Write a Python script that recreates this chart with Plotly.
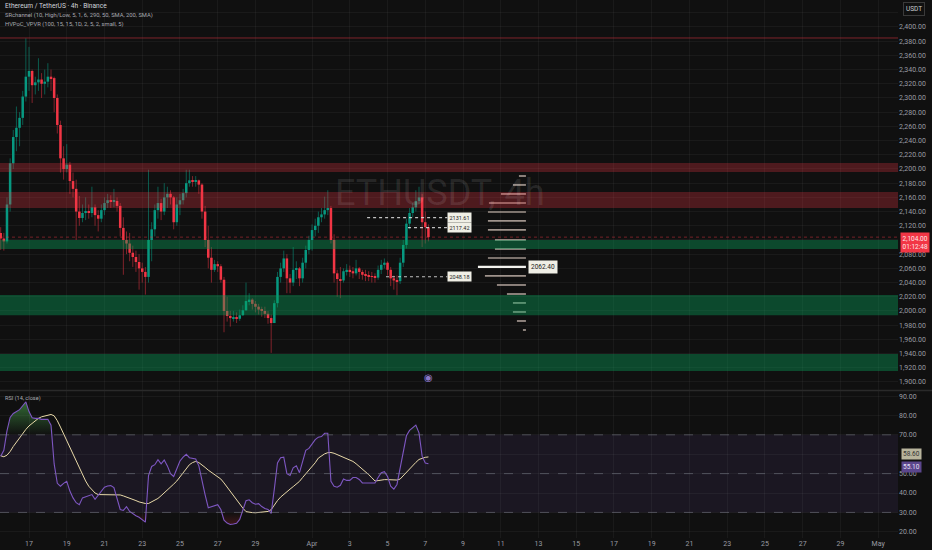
import pandas as pd
import plotly.graph_objects as go

# ---- price data (4h candles, ETHUSDT) ----
first_candle = "2025-03-15 12:00"
first_open = 2110
closes = [2102, 2098, 2150, 2208, 2245, 2258, 2272, 2302, 2330, 2338,
          2318, 2322, 2326, 2320, 2323, 2330, 2328, 2300, 2262, 2215,
          2200, 2206, 2183, 2172, 2140, 2131, 2138, 2140, 2138, 2146,
          2135, 2130, 2142, 2152, 2156, 2154, 2155, 2148, 2117, 2100,
          2095, 2082, 2076, 2069, 2060, 2055, 2048, 2100, 2115, 2142,
          2152, 2140, 2160, 2165, 2160, 2125, 2150, 2156, 2166, 2180,
          2184, 2182, 2184, 2178, 2140, 2100, 2075, 2058, 2066, 2063,
          2044, 2000, 1993, 1990, 1991, 1989, 1994, 2001, 2014, 2016,
          2010, 2006, 2002, 2000, 1996, 1990, 1983, 2011, 2048, 2060,
          2074, 2046, 2040, 2058, 2060, 2046, 2068, 2086, 2100, 2114,
          2120, 2132, 2136, 2142, 2145, 2100, 2053, 2045, 2043, 2056,
          2058, 2056, 2053, 2060, 2055, 2051, 2050, 2049, 2048, 2047,
          2058, 2065, 2068, 2058, 2046, 2043, 2042, 2068, 2093, 2123,
          2138, 2146, 2155, 2160, 2125, 2118, 2104]
highs = [2118, 2110, 2160, 2215, 2255, 2288, 2280, 2310, 2384, 2372,
         2340, 2330, 2356, 2335, 2340, 2349, 2340, 2330, 2305, 2268,
         2232, 2235, 2210, 2195, 2185, 2162, 2150, 2160, 2150, 2175,
         2150, 2142, 2150, 2160, 2165, 2163, 2172, 2160, 2152, 2132,
         2112, 2110, 2092, 2085, 2080, 2068, 2062, 2199, 2125, 2150,
         2175, 2158, 2180, 2175, 2170, 2162, 2160, 2165, 2172, 2199,
         2199, 2190, 2190, 2185, 2180, 2148, 2120, 2090, 2072, 2070,
         2066, 2048, 2020, 2000, 2000, 1998, 2002, 2008, 2040, 2025,
         2018, 2014, 2010, 2006, 2006, 2000, 1995, 2015, 2055, 2068,
         2085, 2080, 2052, 2090, 2070, 2062, 2075, 2092, 2106, 2122,
         2130, 2140, 2145, 2161, 2170, 2148, 2108, 2058, 2062, 2060,
         2066, 2064, 2062, 2072, 2062, 2058, 2058, 2056, 2055, 2053,
         2064, 2072, 2074, 2070, 2062, 2050, 2050, 2075, 2100, 2130,
         2145, 2152, 2170, 2175, 2165, 2140, 2122]
lows = [2086, 2085, 2095, 2140, 2200, 2225, 2232, 2262, 2295, 2310,
        2293, 2305, 2310, 2300, 2305, 2315, 2310, 2280, 2250, 2195,
        2185, 2195, 2165, 2160, 2100, 2120, 2125, 2128, 2130, 2132,
        2120, 2112, 2125, 2135, 2145, 2145, 2146, 2140, 2105, 2051,
        2080, 2070, 2062, 2055, 2030, 2040, 2023, 2040, 2070, 2105,
        2130, 2128, 2135, 2145, 2150, 2115, 2120, 2135, 2150, 2160,
        2175, 2175, 2175, 2165, 2130, 2090, 2060, 2040, 2055, 2055,
        2040, 1970, 1985, 1978, 1985, 1983, 1986, 1993, 2000, 2008,
        2002, 1998, 1995, 1992, 1990, 1982, 1941, 1985, 2005, 2040,
        2055, 2025, 2025, 2035, 2045, 2035, 2040, 2060, 2080, 2085,
        2105, 2110, 2125, 2130, 2135, 2095, 2040, 2020, 2018, 2040,
        2050, 2048, 2046, 2050, 2045, 2044, 2042, 2042, 2040, 2040,
        2044, 2052, 2060, 2050, 2035, 2030, 2022, 2038, 2062, 2088,
        2115, 2132, 2140, 2150, 2090, 2095, 2098]

# ---- RSI (14, close) and its moving average ----
rsi_values = [59, 62, 72, 79, 81, 82, 83, 85, 87, 82,
              78.8, 78.5, 78.5, 78, 78, 78, 75, 55, 45, 43.5,
              45, 46, 41, 37.5, 35, 34, 37.5, 38, 38.5, 39.2,
              36.7, 39, 41, 43, 43.6, 43.8, 42.8, 37, 31.5, 31,
              33, 30.5, 29.2, 28.3, 27.5, 26, 25, 49, 53.7, 54.6,
              57.2, 55, 57, 54, 50, 48.5, 53, 56.5, 58.5, 60,
              58.2, 58, 57.5, 54, 46, 39, 32.4, 33, 33.5, 34,
              31.5, 26, 24.5, 23.8, 24, 24.4, 26.4, 31, 36, 36.5,
              35, 34.2, 34.5, 33, 32, 31.5, 29.5, 42, 55.5, 58.2,
              58.5, 50, 49, 53, 54, 50.5, 56, 62, 63, 65,
              67.5, 68.8, 69.1, 70.8, 70.8, 46, 43.5, 43, 44, 47.2,
              46.5, 46.5, 48, 48, 47, 45.2, 45.2, 45.3, 45.5, 45.2,
              48, 50.5, 51, 48.5, 43.5, 42, 44.4, 53, 62, 69.5,
              72.3, 73.5, 75, 71, 59, 55.5, 55.1]
rsi_ma_values = [59.2, 58.7, 59.5, 61.4, 64, 66.3, 68.8, 70.8, 72.8, 74.6,
                 75.9, 77.3, 78.5, 79.3, 79.8, 80.3, 80.5, 79.8, 77.3, 74,
                 70.5, 67.3, 63.8, 60.2, 56.8, 53.2, 49.6, 46.2, 43.5, 41.6,
                 40, 39.2, 39.2, 39.2, 39.2, 39.2, 39.2, 39.2, 39, 38.5,
                 38, 37.5, 36.8, 36.1, 35.4, 35, 34.6, 34.6, 35.4, 36.3,
                 37.2, 38.6, 40, 41.4, 43, 44.6, 46.2, 48.4, 50.6, 52.8,
                 54.6, 55.7, 56.3, 55.7, 54.6, 53.2, 51.8, 50.6, 49.5, 48.4,
                 47.2, 45.2, 43, 40.6, 38.4, 36, 34.1, 32.2, 30.4, 30,
                 29.9, 29.8, 29.9, 30.1, 30.3, 30.5, 31.4, 33.8, 36.1, 37.9,
                 39.4, 40.9, 42, 43.3, 44.7, 46, 48, 49.8, 51.6, 53.6,
                 55.6, 58, 59.3, 60.2, 60.8, 60.9, 60.5, 59.8, 59.2, 58.6,
                 57.9, 57.3, 56.3, 55.1, 53.8, 52.5, 50.9, 49.5, 47.9, 46.2,
                 46.4, 46.8, 46.9, 46.9, 46.9, 46.8, 46.7, 47.2, 49, 50.8,
                 52.7, 54.2, 55.8, 57.3, 58, 58.4, 58.6]

# ---- SR channel zones ----
resistance_line = 2384.5
red_zones = [(2195.8, 2208.5), (2145.0, 2167.6)]
green_zones = [(2087.3, 2100.0), (1994.0, 2022.5), (1915.5, 1939.4)]

# ---- volume profile (HVPoC_VPVR) ----
vp_levels = [1973.2, 1985.9, 1998.6, 2011.3, 2023.9, 2036.6, 2049.3, 2062.4, 2074.6,
             2087.3, 2100.0, 2114.1, 2126.8, 2139.4, 2152.1, 2164.8, 2177.5, 2190.1]
vp_volume = [3, 9, 13, 13, 19, 29, 41, 48, 38, 31, 31, 38, 38, 38, 37, 25, 13, 7]
vp_right = "2025-04-12 08:00"

# ---- high volume levels ----
level_prices = [2131.61, 2117.42, 2048.18]
level_starts = ["2025-04-03 22:00", "2025-04-06 02:00", "2025-04-04 22:00"]
level_end = "2025-04-08 04:00"

# ---- axis ticks ----
tick_dates = ["2025-03-17", "2025-03-19", "2025-03-21", "2025-03-23", "2025-03-25",
              "2025-03-27", "2025-03-29", "2025-04-01", "2025-04-03", "2025-04-05",
              "2025-04-07", "2025-04-09", "2025-04-11", "2025-04-13", "2025-04-15",
              "2025-04-17", "2025-04-19", "2025-04-21", "2025-04-23", "2025-04-25",
              "2025-04-27", "2025-04-29", "2025-05-01"]
tick_labels = ["17", "19", "21", "23", "25", "27", "29", "Apr", "3", "5", "7", "9",
               "11", "13", "15", "17", "19", "21", "23", "25", "27", "29", "May"]
price_ticks = list(range(1900, 2440, 20))
price_hidden = [2100, 2420]      # covered by the price / currency labels
rsi_ticks = [20, 30, 40, 50, 60, 70, 80, 90]
rsi_hidden = [60]

BG = "#101010"
GRID = "rgba(255,255,255,0.045)"
TXT = "#9a9ca3"
UP, DOWN = "#089981", "#f23645"
FONT = "Roboto"

times = pd.date_range(first_candle, periods=len(closes), freq="4h")
opens = [first_open] + closes[:-1]
highs = [max(h, o, c) for h, o, c in zip(highs, opens, closes)]
lows = [min(l, o, c) for l, o, c in zip(lows, opens, closes)]
is_up = [c >= o for o, c in zip(opens, closes)]

fig = go.Figure()

# candle bodies
body_base = [min(o, c) for o, c in zip(opens, closes)]
body_h = [max(abs(c - o), 1.2) for o, c in zip(opens, closes)]
fig.add_trace(go.Bar(x=times, y=body_h, base=body_base, width=4 * 3600 * 1000 * 0.8,
                     marker=dict(color=[UP if u else DOWN for u in is_up], line=dict(width=0)),
                     xaxis="x", yaxis="y", hoverinfo="skip", showlegend=False))

# volume profile bars, anchored at the right edge
px_ms = 86400000 / 18.87
vmax = max(vp_volume)
vp_len = [v / vmax * 48 * px_ms for v in vp_volume]
vp_left = [pd.Timestamp(vp_right) - pd.Timedelta(milliseconds=l) for l in vp_len]
vp_colors = ["#f2f2ee" if v == vmax else "rgba(200,185,175,0.78)" for v in vp_volume]
fig.add_trace(go.Bar(y=vp_levels, x=vp_len, base=vp_left, orientation="h", width=2.4,
                     marker=dict(color=vp_colors, line=dict(width=0)),
                     xaxis="x", yaxis="y", hoverinfo="skip", showlegend=False))

# candle wicks
for want_up, col in ((True, "rgba(8,153,129,0.55)"), (False, "rgba(242,54,69,0.5)")):
    wx, wy = [], []
    for t, h, l, u in zip(times, highs, lows, is_up):
        if u == want_up:
            wx += [t, t, None]
            wy += [l, h, None]
    fig.add_trace(go.Scatter(x=wx, y=wy, mode="lines", line=dict(color=col, width=1),
                             xaxis="x", yaxis="y", hoverinfo="skip", showlegend=False))

# dotted level lines
for p, s in zip(level_prices, level_starts):
    fig.add_trace(go.Scatter(x=[s, level_end], y=[p, p], mode="lines",
                             line=dict(color="rgba(225,225,225,0.85)", width=1.2, dash="dot"),
                             xaxis="x", yaxis="y", hoverinfo="skip", showlegend=False))

# RSI panel
n = len(rsi_values)
rsi_over = [max(v, 70) for v in rsi_values]
rsi_under = [min(v, 30) for v in rsi_values]
fig.add_trace(go.Scatter(x=times, y=[70] * n, mode="lines", line=dict(width=0),
                         xaxis="x2", yaxis="y2", hoverinfo="skip", showlegend=False))
fig.add_trace(go.Scatter(x=times, y=rsi_over, mode="lines", line=dict(width=0), fill="tonexty",
                         fillgradient=dict(type="vertical", start=70, stop=100,
                                           colorscale=[[0, "rgba(76,175,80,0)"], [1, "rgba(76,175,80,1)"]]),
                         xaxis="x2", yaxis="y2", hoverinfo="skip", showlegend=False))
fig.add_trace(go.Scatter(x=times, y=[30] * n, mode="lines", line=dict(width=0),
                         xaxis="x2", yaxis="y2", hoverinfo="skip", showlegend=False))
fig.add_trace(go.Scatter(x=times, y=rsi_under, mode="lines", line=dict(width=0), fill="tonexty",
                         fillgradient=dict(type="vertical", start=0, stop=30,
                                           colorscale=[[0, "rgba(242,54,69,1)"], [1, "rgba(242,54,69,0)"]]),
                         xaxis="x2", yaxis="y2", hoverinfo="skip", showlegend=False))
fig.add_trace(go.Scatter(x=times, y=rsi_ma_values, mode="lines",
                         line=dict(color="#e8d9a8", width=1),
                         xaxis="x2", yaxis="y2", hoverinfo="skip", showlegend=False))
fig.add_trace(go.Scatter(x=times, y=rsi_values, mode="lines",
                         line=dict(color="#7e57c2", width=1.1),
                         xaxis="x2", yaxis="y2", hoverinfo="skip", showlegend=False))

shapes = []
for y0, y1 in red_zones:
    shapes.append(dict(type="rect", xref="x domain", yref="y", x0=0, x1=1, y0=y0, y1=y1,
                       fillcolor="rgba(242,54,69,0.28)", line=dict(width=0), layer="above"))
for y0, y1 in green_zones:
    shapes.append(dict(type="rect", xref="x domain", yref="y", x0=0, x1=1, y0=y0, y1=y1,
                       fillcolor="rgba(8,160,90,0.40)", line=dict(width=0), layer="above"))
shapes.append(dict(type="line", xref="x domain", yref="y", x0=0, x1=1,
                   y0=resistance_line, y1=resistance_line,
                   line=dict(color="rgba(200,50,60,0.6)", width=1)))
shapes.append(dict(type="line", xref="x domain", yref="y", x0=0, x1=1,
                   y0=closes[-1], y1=closes[-1],
                   line=dict(color="rgba(242,54,69,0.45)", width=1, dash="dot")))
# RSI band and guides
shapes.append(dict(type="rect", xref="x2 domain", yref="y2", x0=0, x1=1, y0=30, y1=70,
                   fillcolor="rgba(126,87,194,0.10)", line=dict(width=0), layer="below"))
for lv in (70, 50, 30):
    shapes.append(dict(type="line", xref="x2 domain", yref="y2", x0=0, x1=1, y0=lv, y1=lv,
                       line=dict(color="rgba(120,123,134,0.55)", width=1, dash="dash")))
# pane separator
shapes.append(dict(type="line", xref="paper", yref="paper", x0=0, x1=1.04, y0=0.2742, y1=0.2742,
                   line=dict(color="#2a2a2a", width=1.5)))

ann = []
ann.append(dict(text="ETHUSDT, 4h", xref="paper", yref="y domain", x=0.49, y=0.505,
                showarrow=False, font=dict(family=FONT, size=36, color="rgba(255,255,255,0.10)")))
legend_lines = ["Ethereum / TetherUS · 4h · Binance",
                "SRchannel (10, High/Low, 5, 1, 6, 290, 50, SMA, 200, SMA)",
                "HVPoC_VPVR (100, 15, 15, 1D, 2, 5, 2, small, 5)"]
legend_sizes = [6.6, 5.8, 5.8]
for i, t in enumerate(legend_lines):
    ann.append(dict(text=t, xref="paper", yref="paper", x=0.003, y=1 - (6 + 9 * i) / 538,
                    xanchor="left", yanchor="middle", showarrow=False,
                    font=dict(family=FONT, size=legend_sizes[i],
                              color="#d1d4dc" if i == 0 else "#a8aab0")))
ann.append(dict(text="RSI (14, close)", xref="paper", yref="y2 domain", x=0.003, y=0.985,
                xanchor="left", yanchor="top", showarrow=False,
                font=dict(family=FONT, size=5.6, color="#a8aab0")))
for p in level_prices:
    ann.append(dict(text=f"{p:.2f}", xref="x", yref="y", x=level_end, y=p,
                    xanchor="left", yanchor="middle", showarrow=False, bgcolor="#f0efe6",
                    borderpad=1.5, font=dict(family=FONT, size=5.5, color="#222")))
poc = vp_levels[vp_volume.index(vmax)]
ann.append(dict(text=f"{poc:.2f}", xref="x", yref="y", x="2025-04-12 11:00", y=poc,
                xanchor="left", yanchor="middle", showarrow=False, bgcolor="#f0efe6",
                borderpad=2, font=dict(family=FONT, size=6.5, color="#222")))
ann.append(dict(text="USDT", xref="paper", yref="paper", x=1, y=1, xshift=5, yshift=-2,
                xanchor="left", yanchor="top", showarrow=False, bgcolor=BG, bordercolor="#3a3a3a",
                borderwidth=1, borderpad=2, font=dict(family=FONT, size=6.5, color="#c9cbd0")))
ann.append(dict(text=f"{closes[-1]:,.2f}<br>01:12:48", xref="paper", yref="y", x=1, y=closes[-1],
                xanchor="left", yanchor="top", yshift=5, xshift=2, showarrow=False,
                bgcolor=DOWN, borderpad=1.5, align="left",
                font=dict(family=FONT, size=6.5, color="#fde8ea")))
ann.append(dict(text=f"{rsi_ma_values[-1]:.2f}", xref="paper", yref="y2", x=1, y=rsi_ma_values[-1],
                xanchor="left", yanchor="bottom", xshift=3, yshift=-3, showarrow=False,
                bgcolor="#b8b49c", borderpad=1, font=dict(family=FONT, size=6.5, color="#333")))
ann.append(dict(text=f"{rsi_values[-1]:.2f}", xref="paper", yref="y2", x=1, y=rsi_values[-1],
                xanchor="left", yanchor="top", xshift=3, yshift=3, showarrow=False,
                bgcolor="#5b468c", borderpad=1, font=dict(family=FONT, size=6.5, color="#e6e0f5")))
ann.append(dict(text="◉", xref="x", yref="y domain", x=times[-1], y=0.025, yshift=-5,
                showarrow=False, font=dict(family="DejaVu Sans", size=10, color="#8c78c8")))

axis_font = dict(family=FONT, size=7, color=TXT)
fig.update_layout(
    width=932, height=550,
    margin=dict(l=0, r=34, t=0, b=12),
    paper_bgcolor=BG, plot_bgcolor=BG,
    showlegend=False, barmode="overlay",
    shapes=shapes, annotations=ann,
    xaxis=dict(type="date", domain=[0, 1], anchor="y",
               range=["2025-03-15 11:07", "2025-05-02 01:12"],
               tickvals=tick_dates, showticklabels=False, showgrid=True, gridcolor=GRID,
               zeroline=False, showline=False),
    xaxis2=dict(type="date", domain=[0, 1], anchor="y2", matches="x",
                tickvals=tick_dates, ticktext=tick_labels,
                showgrid=True, gridcolor=GRID, zeroline=False, showline=False, ticks="",
                tickfont=axis_font),
    yaxis=dict(domain=[0.2751, 1], range=[1888.7, 2438], side="right",
               tickvals=price_ticks,
               ticktext=["" if v in price_hidden else f"{v:,.2f}" for v in price_ticks],
               showgrid=True, gridcolor=GRID, zeroline=False, ticks="", tickfont=axis_font),
    yaxis2=dict(domain=[0, 0.2732], range=[16.8, 92.6], side="right",
                tickvals=rsi_ticks,
                ticktext=["" if v in rsi_hidden else f"{v:.2f}" for v in rsi_ticks],
                showgrid=True, gridcolor=GRID, zeroline=False, ticks="", tickfont=axis_font),
)

fig.write_html("out.html", config={"displayModeBar": False},
               post_script="document.body.style.margin='0';")
